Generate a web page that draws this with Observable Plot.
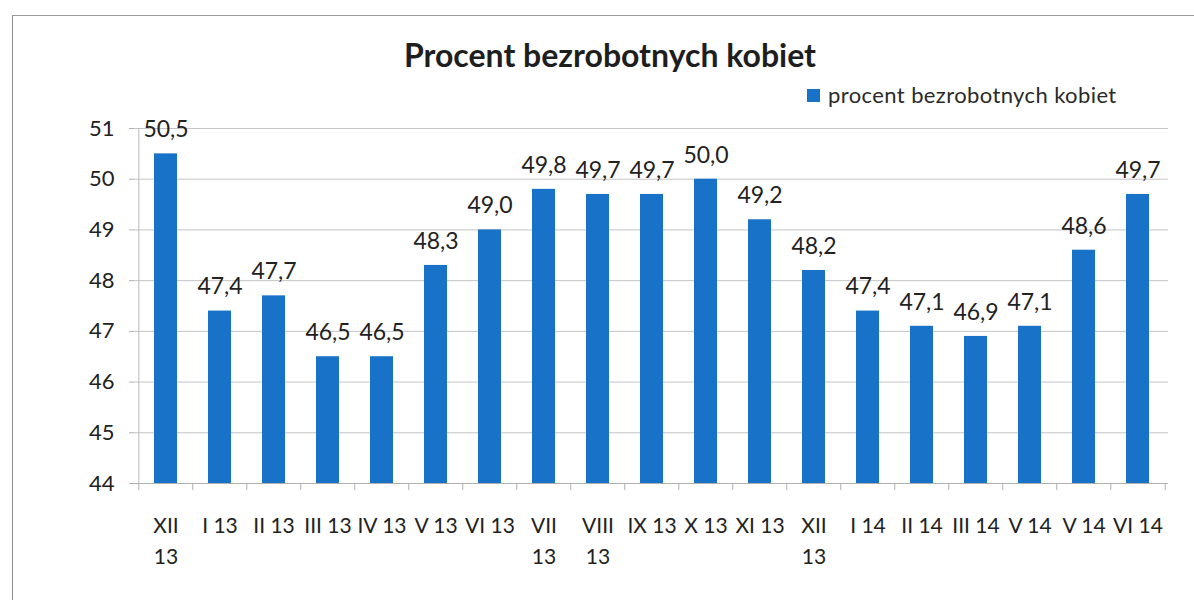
<!DOCTYPE html>
<html>
<head>
<meta charset="utf-8">
<script src="https://cdn.jsdelivr.net/npm/d3@7"></script>
<script src="https://cdn.jsdelivr.net/npm/@observablehq/plot@0.6"></script>
<style>
  html, body { margin: 0; padding: 0; background: #fff; }
  #wrap { position: relative; width: 1194px; height: 600px; overflow: hidden; font-family: Lato, "Open Sans", sans-serif; }
  #frame { position: absolute; left: 12px; top: 15px; width: 1200px; height: 600px; border-left: 1px solid #8a8a8a; border-top: 1px solid #9a9a9a; }
  #title { position: absolute; left: 0; width: 1220px; top: 39px; text-align: center; font-size: 32px; font-weight: bold; line-height: 1; color: #1e1e1e; }
  #legend { position: absolute; left: 807px; top: 84px; display: flex; align-items: center; font-size: 22px; letter-spacing: 0.4px; line-height: 1; color: #2a2a2a; }
  #legend .sw { width: 13px; height: 13px; background: #1872c8; margin-right: 8px; }
  #chart { position: absolute; left: 0; top: 0; }
</style>
</head>
<body>
<div id="wrap">
  <div id="frame"></div>
  <div id="title">Procent bezrobotnych kobiet</div>
  <div id="legend"><div class="sw"></div><span>procent bezrobotnych kobiet</span></div>
  <div id="chart"></div>
</div>
<script>
const labels = ["XII\n13","I 13","II 13","III 13","IV 13","V 13","VI 13","VII\n13","VIII\n13","IX 13","X 13","XI 13","XII\n13","I 14","II 14","III 14","V 14","V 14","VI 14"];
const values = [50.5,47.4,47.7,46.5,46.5,48.3,49.0,49.8,49.7,49.7,50.0,49.2,48.2,47.4,47.1,46.9,47.1,48.6,49.7];
const yTicks = [44,45,46,47,48,49,50,51];

const data = values.map((v, i) => ({i, v, label: labels[i]}));
const idx = data.map(d => d.i);

const W = 1194, H = 600, mL = 134, mR = 26, mT = 128, mB = 117;
const step = (W - mL - mR) / labels.length;
const barColor = "#1872c8";

const chart = Plot.plot({
  width: W, height: H,
  marginLeft: mL, marginRight: mR, marginTop: mT, marginBottom: mB,
  style: {fontFamily: "Lato, 'Open Sans', sans-serif", color: "#222", background: "transparent", overflow: "visible"},
  x: {type: "band", domain: idx, paddingInner: 0.58, paddingOuter: 0.29, axis: null},
  y: {domain: [44, 51], axis: null},
  marks: [
    Plot.gridY(yTicks, {stroke: "#c4c4c4", strokeOpacity: 1, strokeWidth: 1}),
    Plot.axisY({ticks: yTicks, label: null, tickSize: 5, tickPadding: 15, fontSize: 22, stroke: "#b0b0b0", tickFormat: d => String(d), fill: "#222"}),
    Plot.ruleX([0], {x: () => 0, y1: 44, y2: 51, dx: -step / 2, stroke: "#b8b8b8"}),
    Plot.barY(data, {x: "i", y1: 44, y2: "v", fill: barColor}),
    Plot.ruleY([44], {stroke: "#b0b0b0"}),
    Plot.ruleX(idx, {x: d => d, y1: 44, y2: 44, insetBottom: -7, dx: -step / 2, stroke: "#b0b0b0"}),
    Plot.ruleX([idx[idx.length - 1]], {x: d => d, y1: 44, y2: 44, insetBottom: -7, dx: step / 2, stroke: "#b0b0b0"}),
    Plot.text(data, {x: "i", y: "v", text: d => d.v.toFixed(1).replace(".", ","), dy: -24, fontSize: 23, fill: "#222"}),
    Plot.text(data, {x: "i", y: () => 44, text: "label", dy: 28, lineAnchor: "top", lineHeight: 1.45, fontSize: 21, fill: "#222"})
  ]
});
document.getElementById("chart").appendChild(chart);
</script>
</body>
</html>
